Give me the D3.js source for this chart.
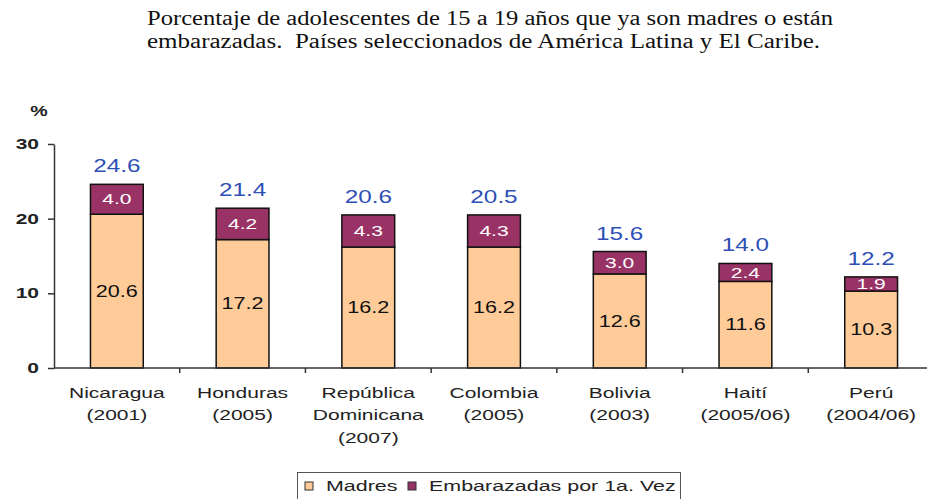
<!DOCTYPE html>
<html lang="es">
<head>
<meta charset="UTF-8">
<script src="https://d3js.org/d3.v7.min.js"></script>
<style>
  body { margin: 0; background: #fff; }
  text { font-family: "Liberation Sans", Arial, sans-serif; }
  .title { font-family: "Liberation Serif", "Times New Roman", serif; font-size: 20px; fill: #111; white-space: pre; }
</style>
</head>
<body>
<div id="container"></div>
<script>
// Datos
var paises = [
  ["Nicaragua", "(2001)"],
  ["Honduras", "(2005)"],
  ["República", "Dominicana", "(2007)"],
  ["Colombia", "(2005)"],
  ["Bolivia", "(2003)"],
  ["Haití", "(2005/06)"],
  ["Perú", "(2004/06)"]
];
var madres = [20.6, 17.2, 16.2, 16.2, 12.6, 11.6, 10.3];
var embarazadas = [4.0, 4.2, 4.3, 4.3, 3.0, 2.4, 1.9];
var totales = ["24.6", "21.4", "20.6", "20.5", "15.6", "14.0", "12.2"];
var yTicks = [0, 10, 20, 30];
var series = ["Madres", "Embarazadas por 1a. Vez"];
var colores = ["#FFCC99", "#993366"];

var width = 927, height = 499;
var x0 = 54, x1 = 934, yTop = 144, yBottom = 368;

// el texto del original sale ensanchado: escalamos en horizontal sin mover el ancla
function ensanchar(sel, k) {
  sel.each(function () {
    var t = d3.select(this);
    var x = +t.attr("x") || 0;
    t.attr("transform", "translate(" + (x * (1 - k)) + ",0) scale(" + k + ",1)");
  });
}

var svg = d3.select("#container").append("svg")
  .attr("width", width)
  .attr("height", height);

// Título
svg.append("text").attr("class", "title").attr("x", 147).attr("y", 25)
  .attr("textLength", 686).attr("lengthAdjust", "spacingAndGlyphs")
  .text("Porcentaje de adolescentes de 15 a 19 años que ya son madres o están");
svg.append("text").attr("class", "title").attr("x", 147).attr("y", 48)
  .attr("textLength", 673).attr("lengthAdjust", "spacingAndGlyphs")
  .text("embarazadas.  Países seleccionados de América Latina y El Caribe.");

// Escalas
var x = d3.scaleBand().domain(d3.range(paises.length)).range([x0, x1]).padding(0);
var y = d3.scaleLinear().domain([0, 30]).range([yBottom, yTop]);
var barW = x.bandwidth() * 0.42;

var data = madres.map(function (m, i) {
  return { i: i, madres: m, emb: embarazadas[i], total: totales[i] };
});

// Barras apiladas
var bars = svg.append("g").selectAll("g.bar").data(data).enter().append("g").attr("class", "bar");

bars.append("rect")
  .attr("x", d => x(d.i) + (x.bandwidth() - barW) / 2)
  .attr("y", d => y(d.madres))
  .attr("width", barW)
  .attr("height", d => y(0) - y(d.madres))
  .attr("fill", colores[0])
  .attr("stroke", "#111")
  .attr("stroke-width", 1.5);

bars.append("rect")
  .attr("x", d => x(d.i) + (x.bandwidth() - barW) / 2)
  .attr("y", d => y(d.madres + d.emb))
  .attr("width", barW)
  .attr("height", d => y(d.madres) - y(d.madres + d.emb))
  .attr("fill", colores[1])
  .attr("stroke", "#111")
  .attr("stroke-width", 1.5);

// Etiquetas dentro de las barras
bars.append("text")
  .attr("x", d => x(d.i) + x.bandwidth() / 2)
  .attr("y", d => (y(0) + y(d.madres)) / 2)
  .attr("dy", "0.35em")
  .attr("text-anchor", "middle")
  .attr("font-size", "16px")
  .attr("fill", "#111")
  .text(d => d.madres.toFixed(1))
  .call(ensanchar, 1.35);

bars.append("text")
  .attr("x", d => x(d.i) + x.bandwidth() / 2)
  .attr("y", d => (y(d.madres) + y(d.madres + d.emb)) / 2)
  .attr("dy", "0.35em")
  .attr("text-anchor", "middle")
  .attr("font-size", "14.5px")
  .attr("fill", "#fff")
  .text(d => d.emb.toFixed(1))
  .call(ensanchar, 1.45);

// Totales
bars.append("text")
  .attr("x", d => x(d.i) + x.bandwidth() / 2)
  .attr("y", d => y(d.madres + d.emb) - 12)
  .attr("text-anchor", "middle")
  .attr("font-size", "18px")
  .attr("fill", "#2E4FB5")
  .text(d => d.total)
  .call(ensanchar, 1.35);

// Eje Y
var yAxis = svg.append("g")
  .attr("transform", "translate(" + x0 + ",0)")
  .call(d3.axisLeft(y).tickValues(yTicks).tickSize(6).tickPadding(9).tickSizeOuter(0));
yAxis.select(".domain").attr("stroke", "#333").attr("stroke-width", 1.5);
yAxis.selectAll(".tick line").attr("stroke", "#333").attr("stroke-width", 1.5);
yAxis.selectAll(".tick text")
  .attr("font-family", "Liberation Sans, Arial, sans-serif")
  .attr("font-size", "14px").attr("font-weight", "bold").attr("fill", "#222")
  .call(ensanchar, 1.5);

svg.append("text").attr("x", 39).attr("y", 116).attr("text-anchor", "middle")
  .attr("font-size", "14px").attr("font-weight", "bold").attr("fill", "#222").text("%")
  .call(ensanchar, 1.4);

// Eje X
svg.append("line")
  .attr("x1", x0).attr("x2", width)
  .attr("y1", y(0)).attr("y2", y(0))
  .attr("stroke", "#333").attr("stroke-width", 1.5);
svg.selectAll("line.xtick").data(d3.range(1, paises.length + 1)).enter().append("line")
  .attr("class", "xtick")
  .attr("x1", d => x0 + d * x.bandwidth()).attr("x2", d => x0 + d * x.bandwidth())
  .attr("y1", y(0)).attr("y2", y(0) + 5)
  .attr("stroke", "#333").attr("stroke-width", 1.5);

var cats = svg.selectAll("text.cat").data(paises).enter().append("text")
  .attr("class", "cat")
  .attr("text-anchor", "middle")
  .attr("font-size", "14.5px")
  .attr("fill", "#222")
  .attr("x", (d, i) => x(i) + x.bandwidth() / 2)
  .attr("y", y(0) + 30);
cats.selectAll("tspan").data(d => d).enter().append("tspan")
  .attr("x", function () { return d3.select(this.parentNode).attr("x"); })
  .attr("dy", (d, j) => j === 0 ? 0 : 22.5)
  .text(d => d);
cats.call(ensanchar, 1.45);

// Leyenda
var leg = svg.append("g");
leg.append("rect").attr("x", 297.5).attr("y", 472.5).attr("width", 383).attr("height", 40)
  .attr("fill", "#fff").attr("stroke", "#555").attr("stroke-width", 1);
var legX = [305, 408];
series.forEach(function (s, i) {
  leg.append("rect").attr("x", legX[i]).attr("y", 482).attr("width", 8).attr("height", 8)
    .attr("fill", colores[i]).attr("stroke", "#333").attr("stroke-width", 1);
  leg.append("text").attr("x", legX[i] + 21).attr("y", 491)
    .attr("font-size", "15px").attr("fill", "#222").text(s)
    .call(ensanchar, 1.43);
});
</script>
</body>
</html>
